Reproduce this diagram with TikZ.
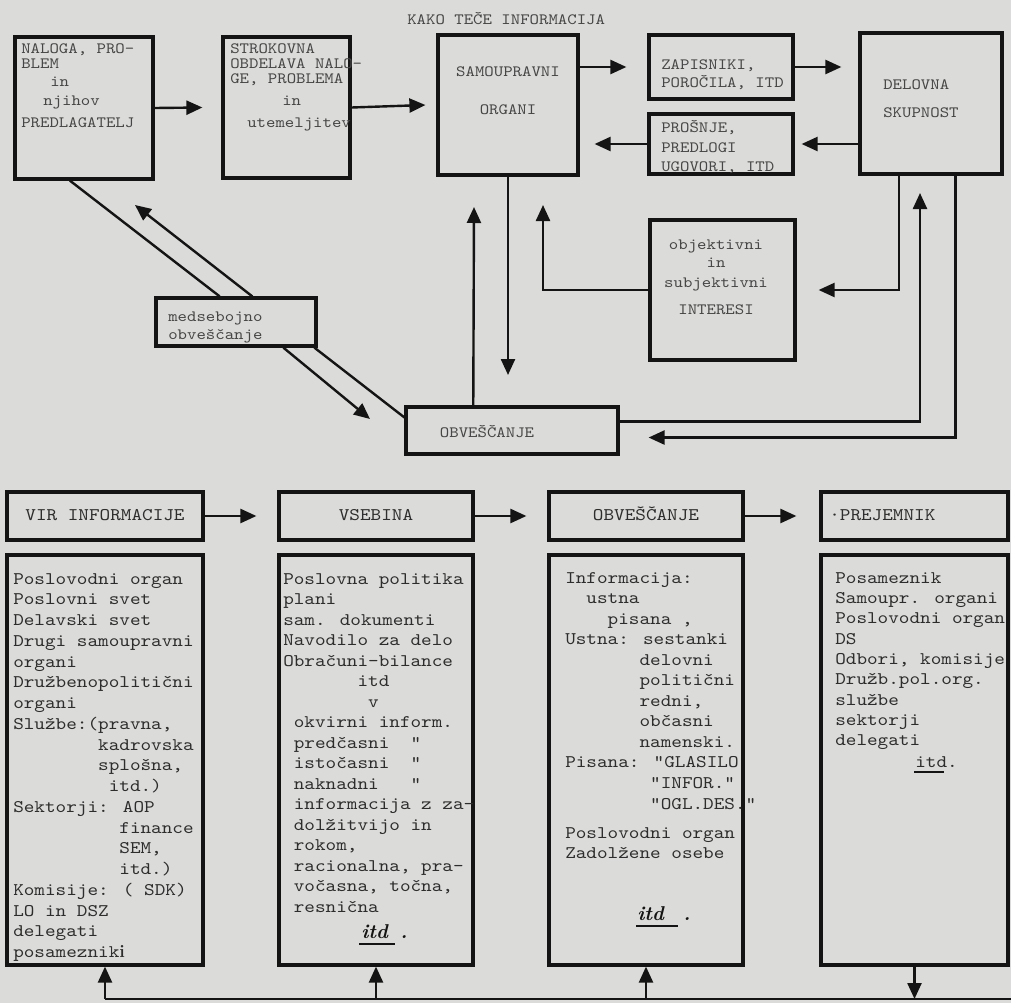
\documentclass[tikz,border=0pt]{standalone}
\usepackage{fontspec}
\newfontfamily\tw{lmmono10-regular}[Extension=.otf, FakeStretch=1.14]
\usetikzlibrary{arrows.meta,calc,fit}
\definecolor{paper}{RGB}{219,220,217}
\definecolor{ink}{RGB}{20,20,20}
\definecolor{typ}{RGB}{45,45,45}
\definecolor{typl}{RGB}{70,70,70}
\newlength\chw
\newcommand\tsp[1]{\settowidth{\chw}{0}\hspace*{#1\chw}}
\tikzset{
  box/.style={draw=ink, line width=2.4pt, inner sep=0pt},
  con/.style={draw=ink, line width=1.8pt},
  arr/.style={con, -{Triangle[length=12pt,width=10.5pt]}},
  small/.style={font=\tw\fontsize{11.8}{14}\selectfont, text=typl, inner sep=0pt, anchor=base west},
  big/.style={font=\tw\fontsize{13.3}{15.5}\selectfont, text=typ, inner sep=0pt, anchor=base west},
  hand/.style={font=\fontsize{15}{15}\selectfont\bfseries\itshape, text=ink, inner sep=0pt, anchor=base west},
  uline/.style={draw=ink, line width=1.3pt},
}
\begin{document}
\begin{tikzpicture}[x=0.75pt,y=-0.75pt]
\fill[paper] (0,0) rectangle (1011,1003);
\useasboundingbox (0,0) rectangle (1011,1003);

% ---------- title
\node[small] (title) at (407,24.5) {KAKO TEČE INFORMACIJA};

% ---------- top boxes
\node[box, fit={(15,37) (153,179)}] (A) {};
\node[box, fit={(223,37) (350,178)}] (B) {};
\node[box, fit={(438,35) (578,175)}] (C) {};
\node[box, fit={(649,35) (793,99)}] (D) {};
\node[box, fit={(649,114) (793,174)}] (E) {};
\node[box, fit={(860,33) (1002,174)}] (F) {};
\node[box, fit={(650,220) (795,360)}] (G) {};
\node[box, fit={(156,298) (316,346)}] (M) {};
\node[box, fit={(406,407) (618,454)}] (O) {};

% texts top
\node[small] (a1) at (21,53.5) {NALOGA, PRO-};
\node[small] (a2) at (21,68.5) {BLEM};
\node[small] (a3) at (50,86.5) {in};
\node[small] (a4) at (43,105.5) {njihov};
\node[small] (a5) at (21,127.5) {PREDLAGATELJ};

\node[small] (b1) at (230,53.5) {STROKOVNA};
\node[small] (b2) at (230,68.5) {OBDELAVA NALO-};
\node[small] (b3) at (230,83.5) {GE, PROBLEMA};
\node[small] (b4) at (282,105.5) {in};
\node[small] (b5) at (247,127.5) {utemeljitev};

\node[small, anchor=base] (c1) at (508,76.5) {SAMOUPRAVNI};
\node[small, anchor=base] (c2) at (508,114.5) {ORGANI};

\node[small] (d1) at (661,69.5) {ZAPISNIKI,};
\node[small] (d2) at (661,87.5) {POROČILA, ITD};

\node[small] (e1) at (661,132.5) {PROŠNJE,};
\node[small] (e2) at (661,152.5) {PREDLOGI};
\node[small] (e3) at (661,171.5) {UGOVORI, ITD};

\node[small] (f1) at (883,89.5) {DELOVNA};
\node[small] (f2) at (883,117.5) {SKUPNOST};

\node[small, anchor=base] (g1) at (716,249.5) {objektivni};
\node[small, anchor=base] (g2) at (716,267.5) {in};
\node[small, anchor=base] (g3) at (716,287.5) {subjektivni};
\node[small, anchor=base] (g4) at (716,314.5) {INTERESI};

\node[small] (m1) at (168,321.5) {medsebojno};
\node[small] (m2) at (168,339.5) {obveščanje};

\node[small, anchor=base] (o1) at (487,437.5) {OBVEŠČANJE};

% ---------- top connectors
\draw[arr] (A.east) -- ($(B.west)+(-19,0)$);
\draw[arr] (B.east) -- ($(C.west)+(-11,0)$);
\draw[arr] (C.east |- D.west) -- ($(D.west)+(-21,0)$);
\draw[arr] (D.east) -- ($(D.east -| F.west)+(-17,0)$);
\draw[arr] (F.west |- E.east) -- ($(E.east)+(7,0)$);
\draw[arr] (E.west) -- ($(E.west -| C.east)+(15,0)$);

\coordinate (cdown) at (508,375);
\draw[arr] (C.south) -- (cdown);
\coordinate (oup) at (474,207);
\draw[arr] ($(O.north west)!0.32!(O.north east)$) -- (oup);
\coordinate (gup) at (543,205);
\draw[arr] (G.west) -| (gup);
\draw[arr] ($(F.south west)!0.28!(F.south east)$) |- ($(G.east)+(22,0)$);
\coordinate (fup) at (920,193);
\draw[arr] ($(O.north east)!0.32!(O.south east)$) -| (fup);
\coordinate (oin) at ($(O.north east)!0.64!(O.south east)$);
\draw[arr] ($(F.south west)!0.67!(F.south east)$) |- ($(oin)+(29,0)$);

% diagonal connectors
\draw[con] ($(A.south west)!0.4!(A.south east)$) -- ($(M.north west)!0.4!(M.north east)$);
\coordinate (mup) at (135,205);
\draw[arr] ($(M.north west)!0.6!(M.north east)$) -- (mup);
\coordinate (mdown) at (370,419);
\draw[arr] ($(M.south west)!0.79!(M.south east)$) -- (mdown);
\draw[con] ($(M.south west)!0.98!(M.south east)$) -- ($(O.north west)!0.24!(O.south west)$);

% ---------- bottom title boxes
\node[box, fit={(7,492) (203,540)}] (T1) {};
\node[box, fit={(279,492) (473,540)}] (T2) {};
\node[box, fit={(549,492) (743,540)}] (T3) {};
\node[box, fit={(821,492) (1008,540)}] (T4) {};
\node[big, anchor=base] (t1) at (105,520) {VIR INFORMACIJE};
\node[big, anchor=base] (t2) at (376,520) {VSEBINA};
\node[big, anchor=base] (t3) at (646,520) {OBVEŠČANJE};
\node[big] (t4) at (829,520) {·PREJEMNIK};

\draw[arr] (T1.east) -- ($(T2.west)+(-21,0)$);
\draw[arr] (T2.east) -- ($(T3.west)+(-21,0)$);
\draw[arr] (T3.east) -- ($(T4.west)+(-23,0)$);

% ---------- content boxes
\node[box, fit={(7,555) (203,965)}] (K1) {};
\node[box, fit={(279,555) (473,965)}] (K2) {};
\node[box, fit={(549,555) (743,965)}] (K3) {};
\node[box, fit={(821,555) (1008,965)}] (K4) {};

\foreach \txt [count=\i from 0] in {{Poslovodni organ},{Poslovni svet},{Delavski svet},
  {Drugi samoupravni},{organi},{Družbenopolitični},{organi},{Službe:(pravna,},
  {\tsp{8}kadrovska},{\tsp{8}splošna,},{\tsp{9}itd.)},{Sektorji: AOP},
  {\tsp{10}finance},{\tsp{10}SEM,},{\tsp{10}itd.)},{Komisije: ( SDK)},
  {LO in DSZ},{delegati},{posameznik{\normalfont\bfseries i}}}
  \node[big] (v\i) at (13,584+\i*20.75) {\txt};

\foreach \txt [count=\i from 0] in {{Poslovna politika},{plani},{sam. dokumenti},
  {Navodilo za delo},{Obračuni-bilance},{\tsp{7}itd},{\tsp{8}v},
  {\tsp{1}okvirni inform.},{\tsp{1}predčasni\tsp{2}"},{\tsp{1}istočasni\tsp{2}"},
  {\tsp{1}naknadni\tsp{3}"},{\tsp{1}informacija z za-},{\tsp{1}dolžitvijo in},
  {\tsp{1}rokom,},{\tsp{1}racionalna, pra-},{\tsp{1}vočasna, točna,},{\tsp{1}resnična}}
  \node[big] (s\i) at (283,584+\i*20.5) {\txt};
\node[hand] (s17) at (361,938) {itd};
\node[hand] (s18) at (400,938) {.};
\draw[uline] (359,944) -- (395,944);

\foreach \txt [count=\i from 0] in {{Informacija:},{\tsp{2}ustna},{\tsp{4}pisana ,},
  {Ustna: sestanki},{\tsp{7}delovni},{\tsp{7}politični},{\tsp{7}redni,},
  {\tsp{7}občasni},{\tsp{7}namenski.},{Pisana: "GLASILO},{\tsp{8}"INFOR."},
  {\tsp{8}"OGL.DES."}}
  \node[big] (w\i) at (565,583+\i*20.55) {\txt};
\node[big] (w12) at (565,838) {Poslovodni organ};
\node[big] (w13) at (565,858) {Zadolžene osebe};
\node[hand] (w14) at (637,920) {itd};
\node[hand] (w15) at (683,920) {.};
\draw[uline] (636,926) -- (678,926);

\foreach \txt [count=\i from 0] in {{Posameznik},{Samoupr. organi},{Poslovodni organ},
  {DS},{Odbori, komisije},{Družb.pol.org.},{službe},{sektorji},{delegati}}
  \node[big] (p\i) at (835,583+\i*20.35) {\txt};
\node[big] (p9) at (915,767) {itd.};
\draw[uline] (914,772) -- (944,772);

% ---------- bottom connectors
\coordinate (bl) at (K1.south |- 0,999);
\coordinate (br) at (1011,999);
\draw[con] (bl) -- (br);
\draw[arr] (bl) -- (K1.south);
\draw[arr] (K2.south |- bl) -- (K2.south);
\draw[arr] (K3.south |- bl) -- (K3.south);
\draw[arr] (K4.south) -- (K4.south |- bl);
\end{tikzpicture}
\end{document}
